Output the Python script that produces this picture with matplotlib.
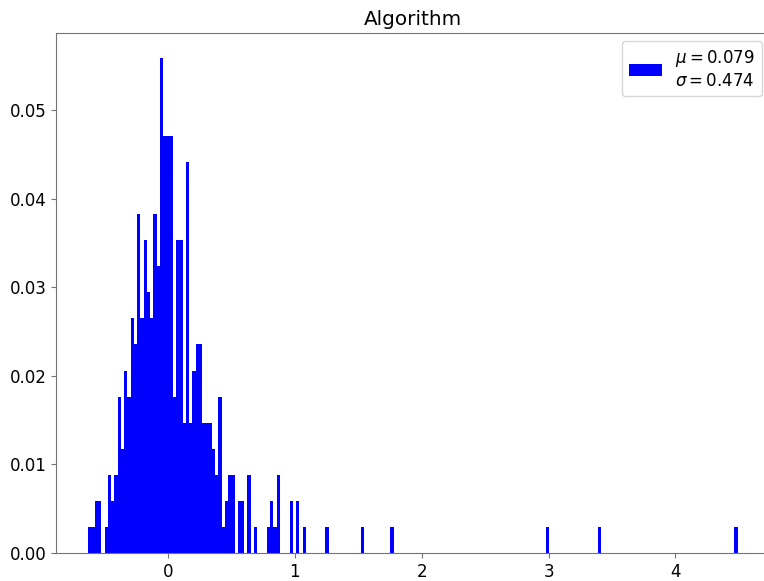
import numpy as np
import matplotlib.pyplot as plt

# histogram range and bins
x_min, x_max = -0.628, 4.49
n_bins = 200

# counts of the first bins (left cluster)
core_counts = [1, 1, 2, 2, 0, 1, 3, 2, 3, 6,
               4, 7, 6, 9, 8, 13, 9, 12, 10, 9,
               13, 11, 19, 16, 16, 16, 6, 12, 12, 5,
               15, 5, 7, 8, 8, 5, 5, 5, 4, 3,
               6, 1, 2, 3, 3, 0, 2, 2, 0, 3,
               0, 1, 0, 0, 0, 1, 2, 1, 3, 0,
               0, 0, 2, 0, 2, 0, 1]
# single samples far in the tail
tail_values = [1.25, 1.54, 1.77, 3.0, 3.40, 4.48]

mu, sigma = 0.079, 0.474

edges = np.linspace(x_min, x_max, n_bins + 1)
centers = (edges[:-1] + edges[1:]) / 2
counts = np.zeros(n_bins)
counts[:len(core_counts)] = core_counts
counts += np.histogram(tail_values, bins=edges)[0]

fig = plt.figure(figsize=(7.64, 5.81), dpi=100)
ax = fig.add_axes([56 / 764, 28 / 581, 714 / 764, 520 / 581])
ax.hist(centers, bins=edges, weights=counts / counts.sum(), color='blue',
        label='$\\mu=%.3f$\n$\\sigma=%.3f$' % (mu, sigma))
ax.set_title('Algorithm', fontsize=14.4)
ax.tick_params(labelsize=12, color='0.45')
for s in ax.spines.values():
    s.set_color('0.45')
ax.legend(loc='upper right', fontsize=12)

plt.savefig('out.png', dpi=100)
